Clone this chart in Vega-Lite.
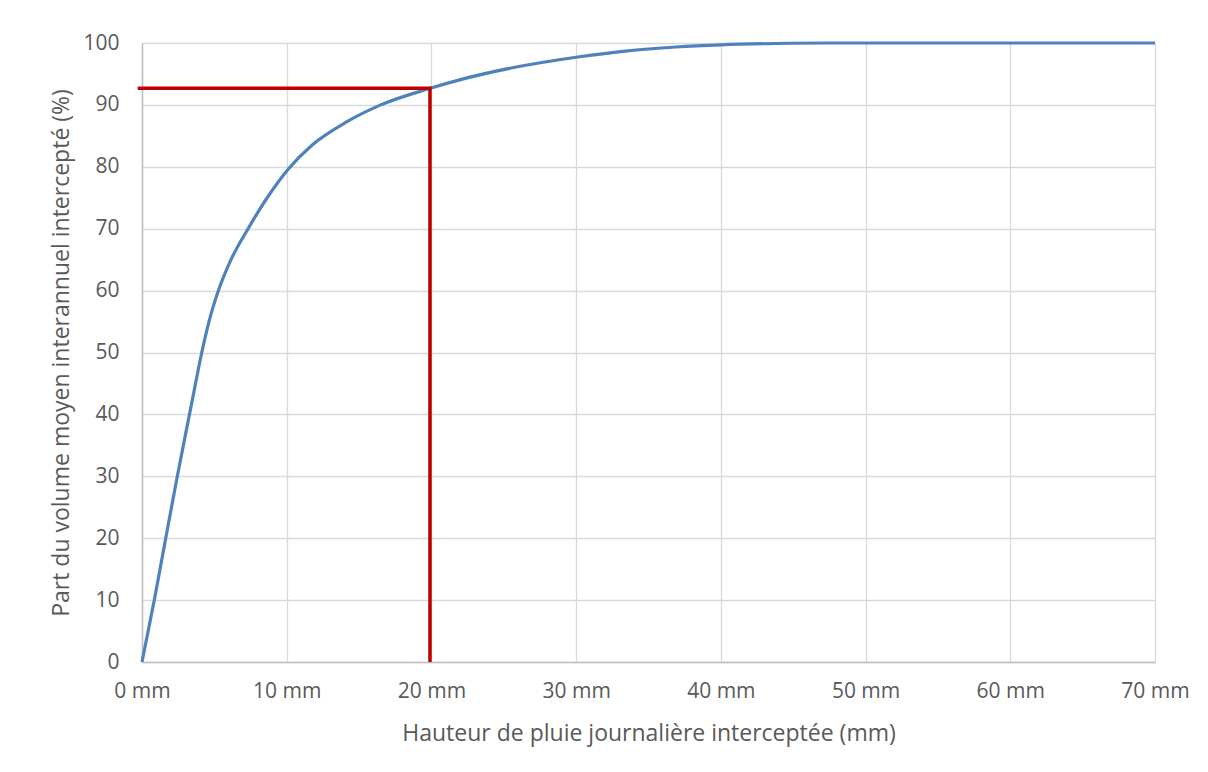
{
  "$schema": "https://vega.github.io/schema/vega-lite/v6.json",
  "autosize": {"type": "none"},
  "width": 1013,
  "height": 619,
  "padding": {"left": 142, "top": 43, "right": 53, "bottom": 110},
  "background": "white",
  "config": {
    "view": {"stroke": null},
    "font": "Open Sans",
    "axis": {
      "labelFont": "Open Sans",
      "titleFont": "Open Sans",
      "labelColor": "#595959",
      "titleColor": "#595959",
      "labelFontSize": 21,
      "titleFontSize": 23,
      "titleFontWeight": "normal",
      "gridColor": "#d9d9d9",
      "gridWidth": 1.3,
      "domainColor": "#bfbfbf",
      "domainWidth": 1.5,
      "ticks": false,
      "labelFlush": false,
      "labelOverlap": false
    }
  },
  "datasets": {
    "curve": [
      {"x": 0, "y": 0},
      {"x": 0.85, "y": 10},
      {"x": 1.64, "y": 20},
      {"x": 2.44, "y": 30},
      {"x": 3.28, "y": 40},
      {"x": 3.7, "y": 45},
      {"x": 4.13, "y": 50},
      {"x": 4.63, "y": 55},
      {"x": 5.28, "y": 60},
      {"x": 6.15, "y": 65},
      {"x": 7.33, "y": 70},
      {"x": 8.65, "y": 75},
      {"x": 10.1, "y": 79.6},
      {"x": 11.8, "y": 83.6},
      {"x": 14.1, "y": 87.2},
      {"x": 16.5, "y": 90.0},
      {"x": 19.8, "y": 92.6},
      {"x": 22.2, "y": 94.2},
      {"x": 25.6, "y": 96.0},
      {"x": 30.0, "y": 97.7},
      {"x": 33.4, "y": 98.7},
      {"x": 36.9, "y": 99.35},
      {"x": 40.0, "y": 99.7},
      {"x": 43.8, "y": 99.92},
      {"x": 47, "y": 100},
      {"x": 70, "y": 100}
    ],
    "marker": [
      {"o": 1, "x": -0.3, "y": 92.7},
      {"o": 2, "x": 19.9, "y": 92.7},
      {"o": 3, "x": 19.9, "y": 0}
    ]
  },
  "layer": [
    {
      "data": {"name": "curve"},
      "mark": {"type": "line", "color": "#4f81bd", "strokeWidth": 3.2, "interpolate": "monotone"},
      "encoding": {
        "x": {
          "field": "x", "type": "quantitative",
          "scale": {"domain": [0, 70], "nice": false},
          "axis": {
            "values": [0, 10, 20, 30, 40, 50, 60, 70],
            "labelExpr": "datum.value + ' mm'",
            "labelPadding": 18,
            "title": "Hauteur de pluie journalière interceptée (mm)",
            "titlePadding": 21
          }
        },
        "y": {
          "field": "y", "type": "quantitative",
          "scale": {"domain": [0, 100], "nice": false},
          "axis": {
            "values": [0, 10, 20, 30, 40, 50, 60, 70, 80, 90, 100],
            "labelPadding": 23,
            "title": "Part du volume moyen interannuel intercepté (%)",
            "titlePadding": 9
          }
        }
      }
    },
    {
      "data": {"name": "marker"},
      "mark": {"type": "line", "color": "#c00000", "strokeWidth": 3.5, "strokeCap": "butt", "strokeJoin": "miter"},
      "encoding": {
        "x": {"field": "x", "type": "quantitative"},
        "y": {"field": "y", "type": "quantitative"},
        "order": {"field": "o"}
      }
    }
  ]
}
